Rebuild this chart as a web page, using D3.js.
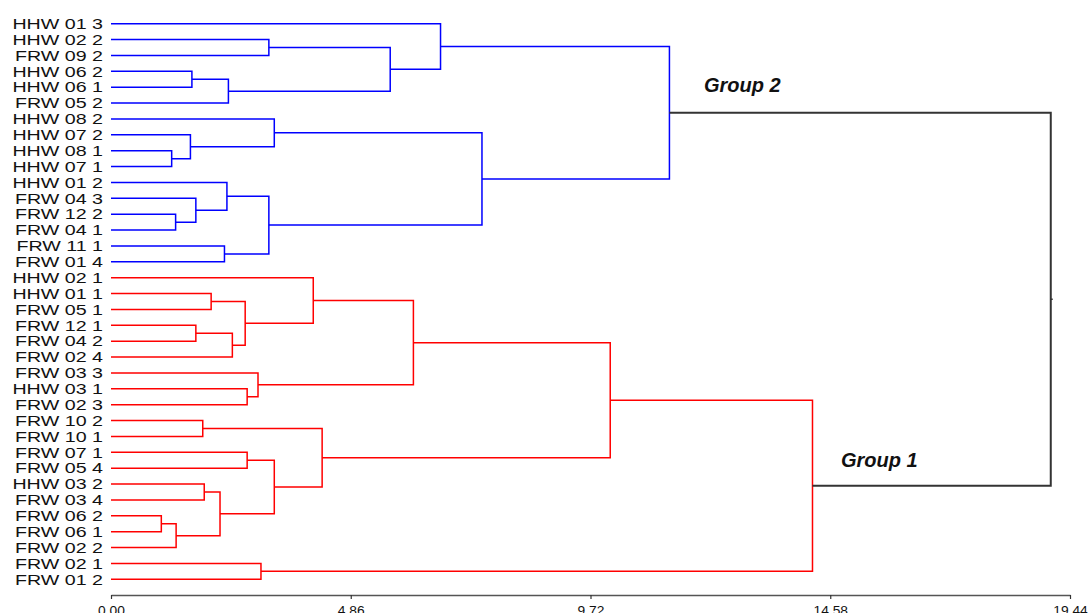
<!DOCTYPE html>
<html>
<head>
<meta charset="utf-8">
<script src="https://cdn.jsdelivr.net/npm/d3@7"></script>
<style>
  html, body { margin: 0; padding: 0; background: #fff; }
  svg { display: block; }
  text { font-family: "Liberation Sans", Arial, Helvetica, sans-serif; }
</style>
</head>
<body>
<svg id="chart" width="1088" height="613"></svg>
<script>
// Leaf labels, top to bottom (indices 0..35)
const leaves = [
  "HHW 01 3", "HHW 02 2", "FRW 09 2", "HHW 06 2", "HHW 06 1", "FRW 05 2",
  "HHW 08 2", "HHW 07 2", "HHW 08 1", "HHW 07 1", "HHW 01 2", "FRW 04 3",
  "FRW 12 2", "FRW 04 1", "FRW 11 1", "FRW 01 4", "HHW 02 1", "HHW 01 1",
  "FRW 05 1", "FRW 12 1", "FRW 04 2", "FRW 02 4", "FRW 03 3", "HHW 03 1",
  "FRW 02 3", "FRW 10 2", "FRW 10 1", "FRW 07 1", "FRW 05 4", "HHW 03 2",
  "FRW 03 4", "FRW 06 2", "FRW 06 1", "FRW 02 2", "FRW 02 1", "FRW 01 2"
];

// Linkage: merge k creates node id 36 + k from [left, right]
const mergeLeft  = [3, 36, 1, 38, 0, 8, 7, 6, 12, 11, 10, 14, 46, 43, 40,
                    17, 19, 52, 51, 16, 23, 22, 55, 25, 27, 29, 31, 62, 61, 60, 59, 58, 34, 67, 50];
const mergeRight = [4, 5, 2, 37, 39, 9, 41, 42, 13, 44, 45, 15, 47, 48, 49,
                    18, 20, 21, 53, 54, 24, 56, 57, 26, 28, 30, 32, 33, 63, 64, 65, 66, 35, 68, 69];
// Linkage distance of each merge
const mergeHeight = [1.64, 2.38, 3.20, 5.66, 6.68, 1.23, 1.61, 3.31, 1.31, 1.72, 2.35, 2.30, 3.20, 7.52, 11.32,
                     2.03, 1.72, 2.46, 2.72, 4.10, 2.76, 2.98, 6.13, 1.86, 2.76, 1.89, 1.02, 1.32, 2.21, 3.31, 4.28, 10.12, 3.04, 14.22, 19.05];

// Cluster roots and their colours (the final merge stays black)
const groupRoots  = [50, 69];
const groupColors = ["#0000ff", "#ff0000"];
const groupNames  = ["Group 2", "Group 1"];

const tickValues = [0.00, 4.86, 9.72, 14.58, 19.44];

const svg = d3.select("#chart");

const x = d3.scaleLinear().domain([0, 19.44]).range([111, 1070]);
const y = d3.scalePoint().domain(d3.range(leaves.length)).range([23.7, 579.3]);

// Build nodes
const n = leaves.length;
const nodes = leaves.map((name, i) => ({ id: i, name, h: 0, y: y(i), children: null }));
mergeLeft.forEach((l, k) => {
  const a = nodes[l], b = nodes[mergeRight[k]];
  nodes.push({ id: n + k, h: mergeHeight[k], y: (a.y + b.y) / 2, children: [a, b] });
});

// Assign a colour to every node inside a cluster
function paint(node, color) {
  node.color = color;
  if (node.children) node.children.forEach(c => paint(c, color));
}
groupRoots.forEach((r, i) => paint(nodes[r], groupColors[i]));
const root = nodes[nodes.length - 1];
root.color = "#333333";

// Links
const links = nodes.filter(d => d.children);
svg.append("g")
  .attr("fill", "none")
  .selectAll("path")
  .data(links)
  .join("path")
  .attr("stroke", d => d.color)
  .attr("stroke-width", d => d === root ? 2 : 1.5)
  .attr("d", d => {
    const [a, b] = d.children;
    return `M${x(a.h)},${a.y}H${x(d.h)}V${b.y}H${x(b.h)}`;
  });

// Root stub
svg.append("line")
  .attr("x1", x(root.h)).attr("x2", x(root.h) + 2)
  .attr("y1", root.y).attr("y2", root.y)
  .attr("stroke", "#333").attr("stroke-width", 1.5);

// Leaf labels
svg.append("g")
  .selectAll("text")
  .data(nodes.slice(0, n))
  .join("text")
  .attr("transform", d => `translate(103,${d.y + 5.3}) scale(1.31,1)`)
  .attr("text-anchor", "end")
  .attr("font-size", 15)
  .attr("fill", "#111")
  .text(d => d.name);

// Group labels
const groupPos = [[704, 92], [841, 467]];
svg.append("g")
  .selectAll("text")
  .data(groupNames)
  .join("text")
  .attr("x", (d, i) => groupPos[i][0])
  .attr("y", (d, i) => groupPos[i][1])
  .attr("font-size", 20)
  .attr("font-weight", "bold")
  .attr("font-style", "italic")
  .attr("fill", "#111")
  .text(d => d);

// Distance axis
const axis = d3.axisBottom(x)
  .tickValues(tickValues)
  .tickFormat(d3.format(".2f"))
  .tickSize(4)
  .tickSizeOuter(0);
const ax = svg.append("g").attr("transform", "translate(0,595)").call(axis);
ax.select(".domain").attr("stroke", "#555").attr("stroke-width", 1.5);
ax.selectAll(".tick line").attr("stroke", "#333").attr("stroke-width", 1.2);
ax.selectAll(".tick text")
  .attr("font-family", "Liberation Sans, Arial, sans-serif")
  .attr("font-size", 12)
  .attr("fill", "#111")
  .attr("y", 0)
  .attr("dy", 0)
  .attr("transform", "translate(0,19.5) scale(1.15,1)");
</script>
</body>
</html>
